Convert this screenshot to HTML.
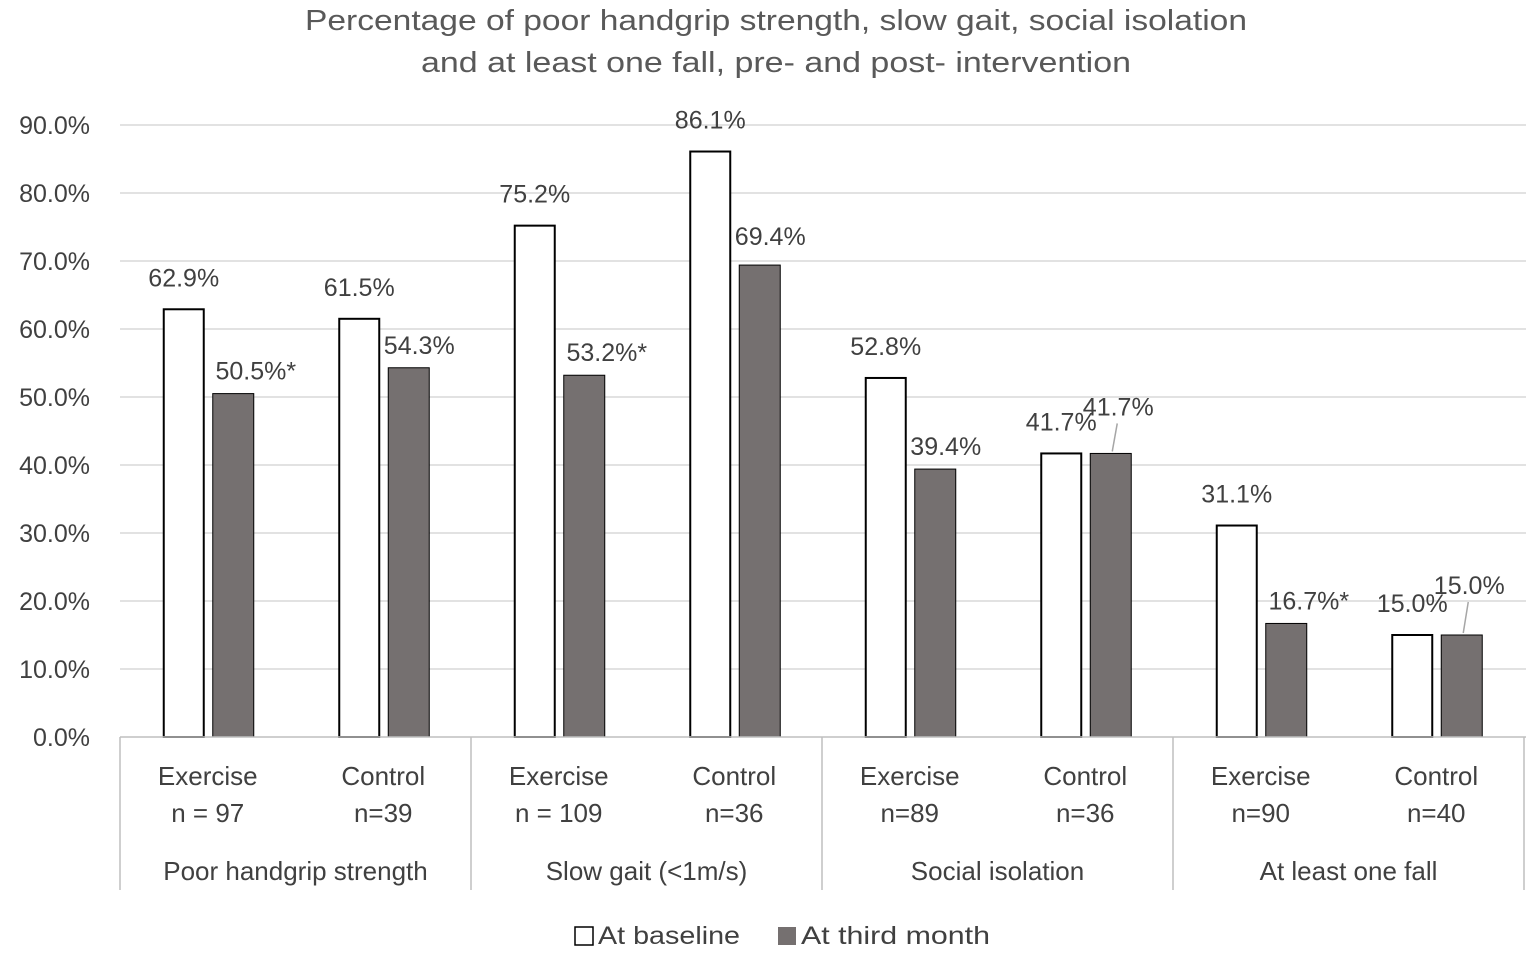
<!DOCTYPE html>
<html><head><meta charset="utf-8"><style>
body{margin:0;background:#fff;}
svg text{font-family:"Liberation Sans",sans-serif;fill:#404040;}
</style></head><body>
<svg id="chart" width="1535" height="959" xmlns="http://www.w3.org/2000/svg">
<text x="776" y="30" text-anchor="middle" font-size="29" textLength="942" lengthAdjust="spacingAndGlyphs" style="fill:#595959">Percentage of poor handgrip strength, slow gait, social isolation</text>
<text x="776" y="72" text-anchor="middle" font-size="29" textLength="710" lengthAdjust="spacingAndGlyphs" style="fill:#595959">and at least one fall, pre- and post- intervention</text>
<g id="grid"></g><g id="bars"></g><g id="labels"></g><g id="xaxis"></g>
<g>
<rect x="575" y="927" width="18" height="18" fill="#fff" stroke="#000" stroke-width="1.5"/>
<text x="598" y="944" font-size="25" textLength="142" lengthAdjust="spacingAndGlyphs">At baseline</text>
<rect x="778" y="927" width="18" height="18" fill="#757070"/>
<text x="801" y="944" font-size="25" textLength="189" lengthAdjust="spacingAndGlyphs">At third month</text>
</g>
</svg>
<script>
const groups=["Poor handgrip strength","Slow gait (<1m/s)","Social isolation","At least one fall"];
const subgroups=["Exercise","Control","Exercise","Control","Exercise","Control","Exercise","Control"];
const ns=["n = 97","n=39","n = 109","n=36","n=89","n=36","n=90","n=40"];
const baseline=[62.9,61.5,75.2,86.1,52.8,41.7,31.1,15.0];
const thirdMonth=[50.5,54.3,53.2,69.4,39.4,41.7,16.7,15.0];
const thirdStars=["*","","*","","","","*",""];
const yTicks=[0,10,20,30,40,50,60,70,80,90];
const S="http://www.w3.org/2000/svg";
const X0=120,X1=1524,Y0=737,PX=6.8;
const y=v=>Y0-v*PX;
const sw=(X1-X0)/subgroups.length;
const xc=i=>X0+sw*(i+0.5);
function mk(p,t,a){const e=document.createElementNS(S,t);for(const k in a)e.setAttribute(k,a[k]);p.appendChild(e);return e;}
const grid=document.getElementById('grid'),bars=document.getElementById('bars'),labels=document.getElementById('labels'),xa=document.getElementById('xaxis');
yTicks.forEach(t=>{
 if(t>0){const l=mk(grid,'line',{x1:X0,x2:X1+2,y1:y(t),y2:y(t),stroke:'#d9d9d9','stroke-width':1.5});
 
 }
 const tx=mk(grid,'text',{x:90,y:y(t)+9,'text-anchor':'end','font-size':25});
 tx.textContent=t.toFixed(1)+'%';
 
 
});
const ax=mk(xa,'line',{x1:X0,x2:X1+2,y1:Y0,y2:Y0,stroke:'#bfbfbf','stroke-width':1.5});


for(let g=0;g<=groups.length;g++){const x=X0+sw*2*g;
 const l=mk(xa,'line',{x1:x,x2:x,y1:Y0,y2:890,stroke:'#bfbfbf','stroke-width':1.5});
 
 }
groups.forEach((g,i)=>{const t=mk(xa,'text',{x:X0+sw*(2*i+1),y:880,'text-anchor':'middle','font-size':26});t.textContent=g;
 
 });
const specialLabel={5:[-18,-30,true],7:[-14,-33,true]};
subgroups.forEach((s,i)=>{
 const c=xc(i);
 const t1=mk(xa,'text',{x:c,y:785,'text-anchor':'middle','font-size':26});t1.textContent=s;
 
 
 const t2=mk(xa,'text',{x:c,y:822,'text-anchor':'middle','font-size':26});t2.textContent=ns[i];
 
 
 const b=mk(bars,'rect',{x:c-44,y:y(baseline[i]),width:40,height:baseline[i]*PX,fill:'#fff',stroke:'#000','stroke-width':2});
 
 
 const d=mk(bars,'rect',{x:c+5,y:y(thirdMonth[i]),width:41,height:thirdMonth[i]*PX,fill:'#757070',stroke:'#000','stroke-width':1});
 
 
 const l1=mk(labels,'text',{x:c-24,y:y(baseline[i])-23,'text-anchor':'middle','font-size':25});l1.textContent=baseline[i].toFixed(1)+'%';
 
 
 let lx=c+36+(thirdStars[i]?12:0),ly=y(thirdMonth[i])-14;
 if(i===3)ly=y(thirdMonth[i])-20;
 if(specialLabel[i]){lx=c+25+8;ly=y(thirdMonth[i])+specialLabel[i][1]-8;
  const ll=mk(labels,'line',{x1:c+32,y1:ly+8,x2:c+27,y2:y(thirdMonth[i])-2,stroke:'#a6a6a6','stroke-width':1.5});
  
  }
 const l2=mk(labels,'text',{x:lx,y:ly,'text-anchor':'middle','font-size':25});l2.textContent=thirdMonth[i].toFixed(1)+'%'+thirdStars[i];
 
 
});
</script>
</body></html>
